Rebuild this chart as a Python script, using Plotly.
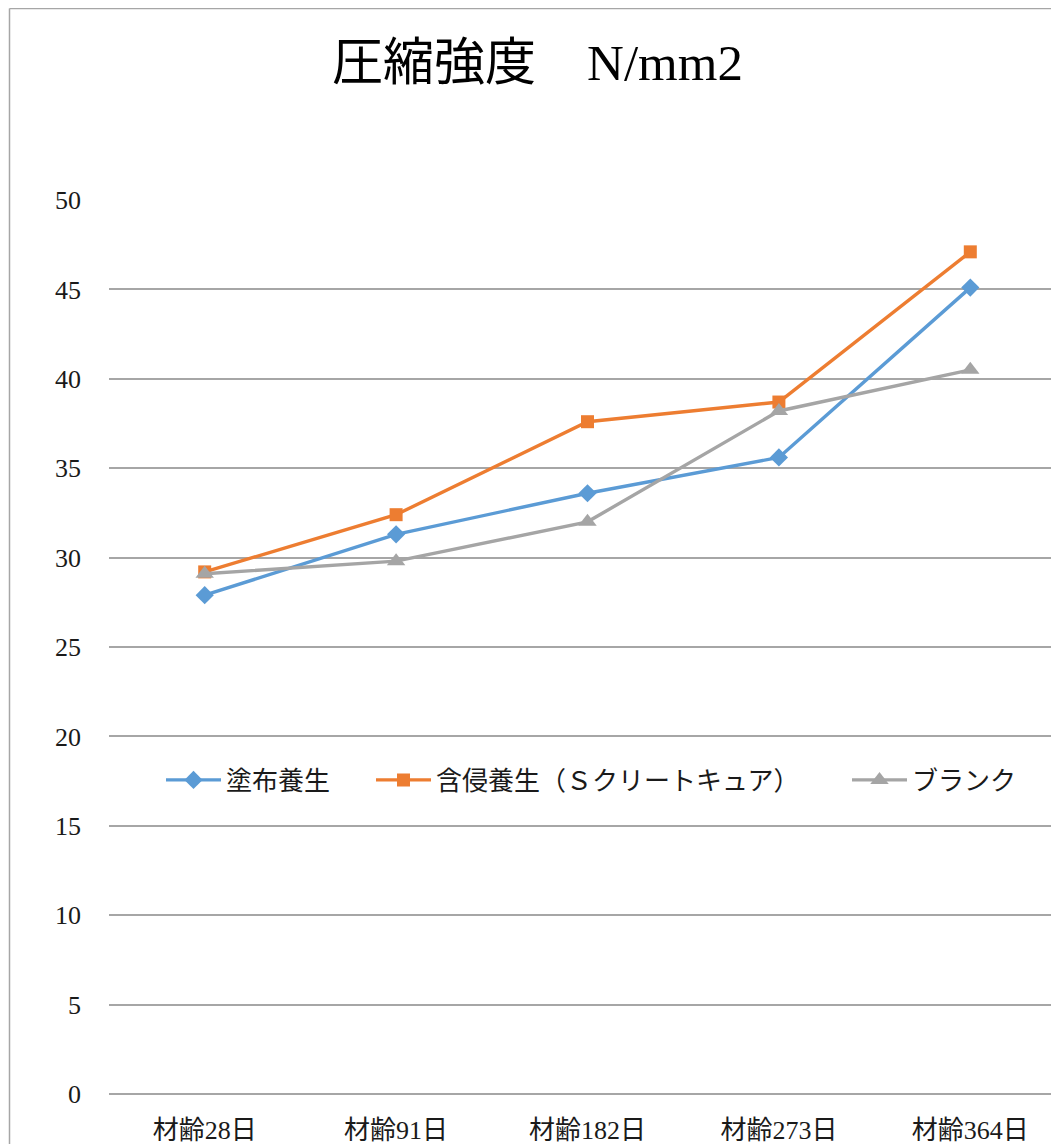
import plotly.graph_objects as go

categories = ["材齢28日", "材齢91日", "材齢182日", "材齢273日", "材齢364日"]
series_names = ["塗布養生", "含侵養生（Ｓクリートキュア）", "ブランク"]
toufu = [27.9, 31.3, 33.6, 35.6, 45.1]
ganshin = [29.2, 32.4, 37.6, 38.7, 47.1]
blank = [29.1, 29.8, 32.0, 38.2, 40.5]
y_ticks = [0, 5, 10, 15, 20, 25, 30, 35, 40, 45, 50]

FONT = "Liberation Serif, 'Noto Sans CJK JP', serif"
TEXT = "#1a1a1a"
colors = ["#5B9BD5", "#ED7D31", "#A5A5A5"]
symbols = ["diamond", "square", "triangle-up"]
sizes = [14, 13, 16]
values = [toufu, ganshin, blank]
legends = ["legend", "legend2", "legend3"]

OFF = 8  # page body margin
W, H = 1059, 1144


def s(p):
    """screen pixel -> figure pixel"""
    return p - OFF


L = s(109)
T = s(200)
B = H - s(1094)
R = 0
pw, ph = W - L - R, H - T - B
cat_step = 191.4

fig = go.Figure()
for name, vals, c, sym, sz, lg in zip(series_names, values, colors, symbols, sizes, legends):
    fig.add_trace(go.Scatter(
        x=categories, y=vals, name=name, mode="lines+markers",
        line=dict(color=c, width=3.4),
        marker=dict(symbol=sym, size=sz, color=c),
        legend=lg,
    ))


def px_x(p):
    return (s(p) - L) / pw


def px_y(p):
    return (H - B - s(p)) / ph


legend_common = dict(orientation="h", yanchor="middle", xanchor="left",
                     bgcolor="rgba(0,0,0,0)", font=dict(family=FONT, size=26, color=TEXT),
                     itemwidth=55)
fig.update_layout(
    width=W, height=H,
    margin=dict(l=L, r=R, t=T, b=B, pad=0),
    paper_bgcolor="white", plot_bgcolor="white",
    title=dict(text="圧縮強度　N/mm2", x=s(537.5) / W, xref="container", xanchor="center",
               y=1 - s(62) / H, yref="container", yanchor="middle",
               font=dict(family=FONT, size=51, color="black")),
    legend=dict(x=px_x(161), y=px_y(780), **legend_common),
    legend2=dict(x=px_x(371), y=px_y(780), **legend_common),
    legend3=dict(x=px_x(847), y=px_y(780), **legend_common),
    xaxis=dict(type="category", range=[-0.5, -0.5 + pw / cat_step], showgrid=False,
               showline=False, ticks="", ticklabelstandoff=18,
               tickfont=dict(family=FONT, size=26, color=TEXT)),
    yaxis=dict(range=[0, 50], tickvals=y_ticks, showgrid=True, gridcolor="#A6A6A6",
               gridwidth=1.5, zeroline=True, zerolinecolor="#A6A6A6", zerolinewidth=1.5,
               showline=False, ticks="", ticklabelstandoff=27,
               tickfont=dict(family=FONT, size=26, color=TEXT)),
    showlegend=True,
)

# chart frame (left and top edges visible)
fig.add_shape(type="line", xref="paper", yref="paper",
              x0=px_x(9.5), x1=px_x(9.5), y0=px_y(8.5), y1=px_y(H + 20),
              line=dict(color="#A6A6A6", width=1.5))
fig.add_shape(type="line", xref="paper", yref="paper",
              x0=px_x(9.5), x1=px_x(W + 20), y0=px_y(8.5), y1=px_y(8.5),
              line=dict(color="#A6A6A6", width=1.5))

fig.write_html("out.html")
